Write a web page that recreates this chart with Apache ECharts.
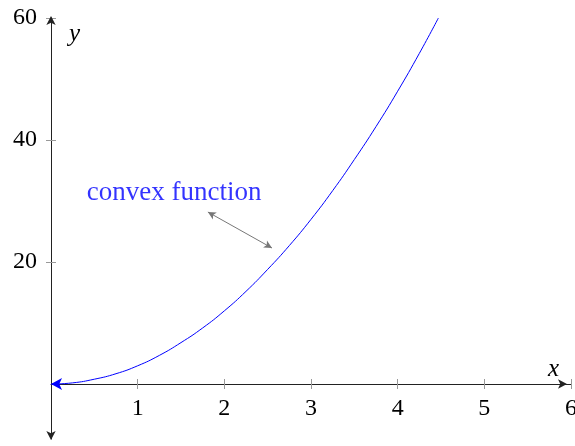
<!DOCTYPE html>
<html>
<head>
<meta charset="utf-8">
<script src="https://cdn.jsdelivr.net/npm/echarts@6/dist/echarts.min.js"></script>
<style>
  html, body { margin: 0; padding: 0; background: #fff; }
  #chart { width: 575px; height: 446px; }
</style>
</head>
<body>
<div id="chart"></div>
<script>
// curve values
const xValues = [0, 0.25, 0.5, 0.75, 1, 1.25, 1.5, 1.75, 2, 2.25, 2.5, 2.75, 3, 3.25, 3.5, 3.75, 4, 4.25, 4.47];
const yValues = [0, 0.2, 0.8, 1.7, 3, 4.7, 6.8, 9.2, 12, 15.2, 18.8, 22.7, 27, 31.7, 36.8, 42.2, 48, 54.2, 60];
const xTicks = [1, 2, 3, 4, 5, 6];
const yTicks = [20, 40, 60];
const labelText = 'convex function';
const labelAt = [1.42, 31.3];
const pointerFrom = [1.81, 28.2];
const pointerTo = [2.55, 22.3];

const serif = '"Liberation Serif", "DejaVu Serif", serif';
const chart = echarts.init(document.getElementById('chart'));

const curve = xValues.map((x, i) => [x, yValues[i]]);

// grid spans y -9..60, so the x axis is lifted up to y = 0
const yMin = -9, yMax = 60;
const gridTop = 18, gridBottom = 7;
const plotH = 446 - gridTop - gridBottom;
const xAxisLift = -Math.round(plotH * (0 - yMin) / (yMax - yMin));

const baseX = {
  type: 'value',
  min: 0,
  max: 6,
  offset: xAxisLift,
  splitLine: { show: false }
};
const baseY = {
  type: 'value',
  min: yMin,
  max: yMax,
  splitLine: { show: false }
};

const option = {
  animation: false,
  grid: { left: 51, right: 4, top: gridTop, bottom: gridBottom, containLabel: false, outerBoundsMode: 'none' },
  xAxis: [
    Object.assign({}, baseX, {
      name: 'x',
      nameLocation: 'end',
      nameGap: -12,
      nameTextStyle: { fontFamily: serif, fontStyle: 'italic', fontSize: 25, color: '#000',
        align: 'right', verticalAlign: 'bottom', padding: [0, 0, 2, 0] },
      axisLine: { onZero: false, symbol: ['none', 'arrow'], symbolSize: [7, 9], symbolOffset: [0, -4],
        lineStyle: { color: '#222', width: 1 } },
      axisTick: { customValues: xTicks, length: 5, lineStyle: { color: '#999' } },
      axisLabel: { customValues: xTicks, margin: 13, fontFamily: serif, fontSize: 24, color: '#000' }
    }),
    Object.assign({}, baseX, {
      position: 'bottom',
      axisLine: { show: false, onZero: false },
      axisTick: { customValues: xTicks, inside: true, length: 5, lineStyle: { color: '#999' } },
      axisLabel: { show: false }
    })
  ],
  yAxis: [
    Object.assign({}, baseY, {
      name: 'y',
      nameLocation: 'end',
      nameGap: -16,
      nameTextStyle: { fontFamily: serif, fontStyle: 'italic', fontSize: 25, color: '#000',
        align: 'left', verticalAlign: 'middle', padding: [0, 0, 0, 18] },
      axisLine: { onZero: false, symbol: ['arrow', 'arrow'], symbolSize: [7, 9], symbolOffset: [-1, 2],
        lineStyle: { color: '#222', width: 1 } },
      axisTick: { customValues: yTicks, length: 5, lineStyle: { color: '#999' } },
      axisLabel: { customValues: yTicks, margin: 14, fontFamily: serif, fontSize: 24, color: '#000' }
    }),
    Object.assign({}, baseY, {
      position: 'left',
      axisLine: { show: false, onZero: false },
      axisTick: { customValues: yTicks, inside: true, length: 5, lineStyle: { color: '#999' } },
      axisLabel: { show: false }
    })
  ],
  series: [
    {
      type: 'line',
      xAxisIndex: 0,
      yAxisIndex: 0,
      data: curve.map((p, i) => i === 0
        ? { value: p, symbol: 'arrow', symbolSize: [9, 11], symbolRotate: 90, symbolOffset: [0, 0] }
        : { value: p }),
      showSymbol: true,
      symbol: 'none',
      smooth: true,
      lineStyle: { color: '#0000ff', width: 1 },
      itemStyle: { color: '#0000ff' },
      z: 5
    },
    {
      type: 'scatter',
      xAxisIndex: 0,
      yAxisIndex: 0,
      data: [labelAt],
      symbolSize: 0,
      silent: true,
      label: {
        show: true,
        position: 'inside',
        formatter: labelText,
        fontFamily: serif,
        fontSize: 27,
        color: '#0000ff'
      },
      markLine: {
        silent: true,
        symbol: ['arrow', 'arrow'],
        symbolSize: [6, 8],
        label: { show: false },
        lineStyle: { color: '#777', width: 1, type: 'solid' },
        data: [[{ coord: pointerFrom }, { coord: pointerTo }]]
      }
    }
  ]
};

chart.setOption(option);
</script>
</body>
</html>
